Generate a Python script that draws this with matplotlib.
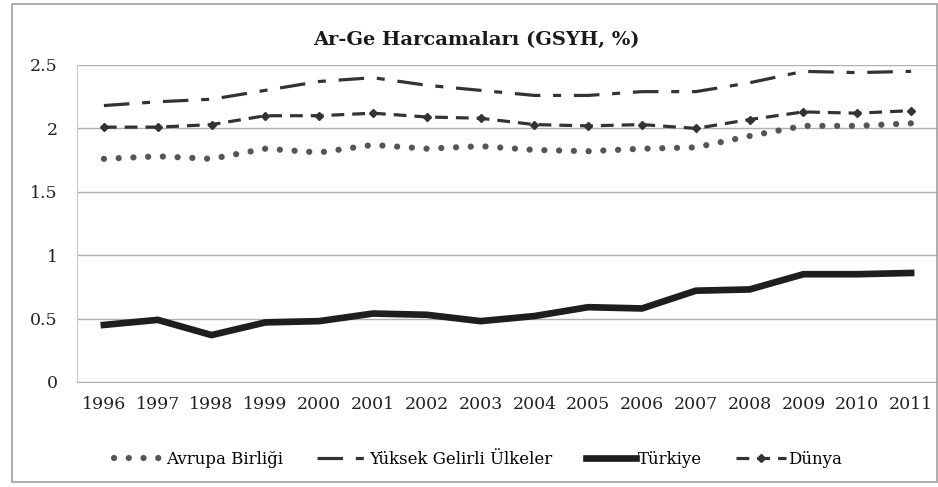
import matplotlib.pyplot as plt
from matplotlib.patches import Rectangle

years = [str(y) for y in range(1996, 2012)]
ab = [1.76, 1.78, 1.76, 1.84, 1.81, 1.87, 1.84, 1.86, 1.83, 1.82, 1.84, 1.85, 1.94, 2.02, 2.02, 2.04]
yuksek = [2.18, 2.21, 2.23, 2.30, 2.37, 2.40, 2.34, 2.30, 2.26, 2.26, 2.29, 2.29, 2.36, 2.45, 2.44, 2.45]
turkiye = [0.45, 0.49, 0.37, 0.47, 0.48, 0.54, 0.53, 0.48, 0.52, 0.59, 0.58, 0.72, 0.73, 0.85, 0.85, 0.86]
dunya = [2.01, 2.01, 2.03, 2.10, 2.10, 2.12, 2.09, 2.08, 2.03, 2.02, 2.03, 2.00, 2.07, 2.13, 2.12, 2.14]

plt.rcParams['font.family'] = ['DejaVu Serif']

fig = plt.figure(figsize=(9.38, 4.87), dpi=100)
fig.patches.append(Rectangle((12 / 938, 5 / 487), 925 / 938, 478 / 487, transform=fig.transFigure,
                             fill=False, edgecolor='#a0a0a0', linewidth=1.2))
ax = fig.add_axes([77 / 938, 1 - 382 / 487, 861 / 938, 317 / 487])

x = list(range(len(years)))
ax.plot(x, ab, color='#555555', linestyle=(0, (0.01, 2.35)), linewidth=4.5,
        dash_capstyle='round', label='Avrupa Birliği')
ax.plot(x, yuksek, color='#333333', linestyle=(0, (8, 4, 2.5, 4)), linewidth=2.3,
        label='Yüksek Gelirli Ülkeler')
ax.plot(x, turkiye, color='#1e1e1e', linewidth=4.8, solid_joinstyle='round', label='Türkiye')
ax.plot(x, dunya, color='#333333', linestyle=(0, (4, 2.5)), linewidth=2.3,
        marker='D', markersize=4.5, label='Dünya')

ax.set_xlim(-0.5, len(years) - 0.5)
ax.set_ylim(0, 2.5)
ax.set_yticks([0, 0.5, 1, 1.5, 2, 2.5])
ax.set_yticklabels(['0', '0.5', '1', '1.5', '2', '2.5'])
ax.set_xticks(x)
ax.set_xticklabels(years)
ax.tick_params(axis='both', length=0, labelsize=12.5, colors='#222222')
ax.tick_params(axis='y', pad=14)
ax.tick_params(axis='x', pad=10)
ax.grid(axis='y', color='#b0b0b0', linewidth=1)
ax.set_axisbelow(True)
for s in ['top', 'right']:
    ax.spines[s].set_visible(False)
ax.spines['left'].set_color('#c8c8c8')
ax.spines['bottom'].set_color('#b0b0b0')

fig.text(476 / 938, 1 - 40 / 487, 'Ar-Ge Harcamaları (GSYH, %)', ha='center', va='center',
         fontsize=14, fontweight='bold', color='#1a1a1a')

fig.legend(loc='center', bbox_to_anchor=(478 / 938, 1 - 459 / 487), ncol=4, frameon=False,
           fontsize=12, handlelength=3.0, columnspacing=2.0, handletextpad=0.15)

fig.savefig('out.png', dpi=100)
